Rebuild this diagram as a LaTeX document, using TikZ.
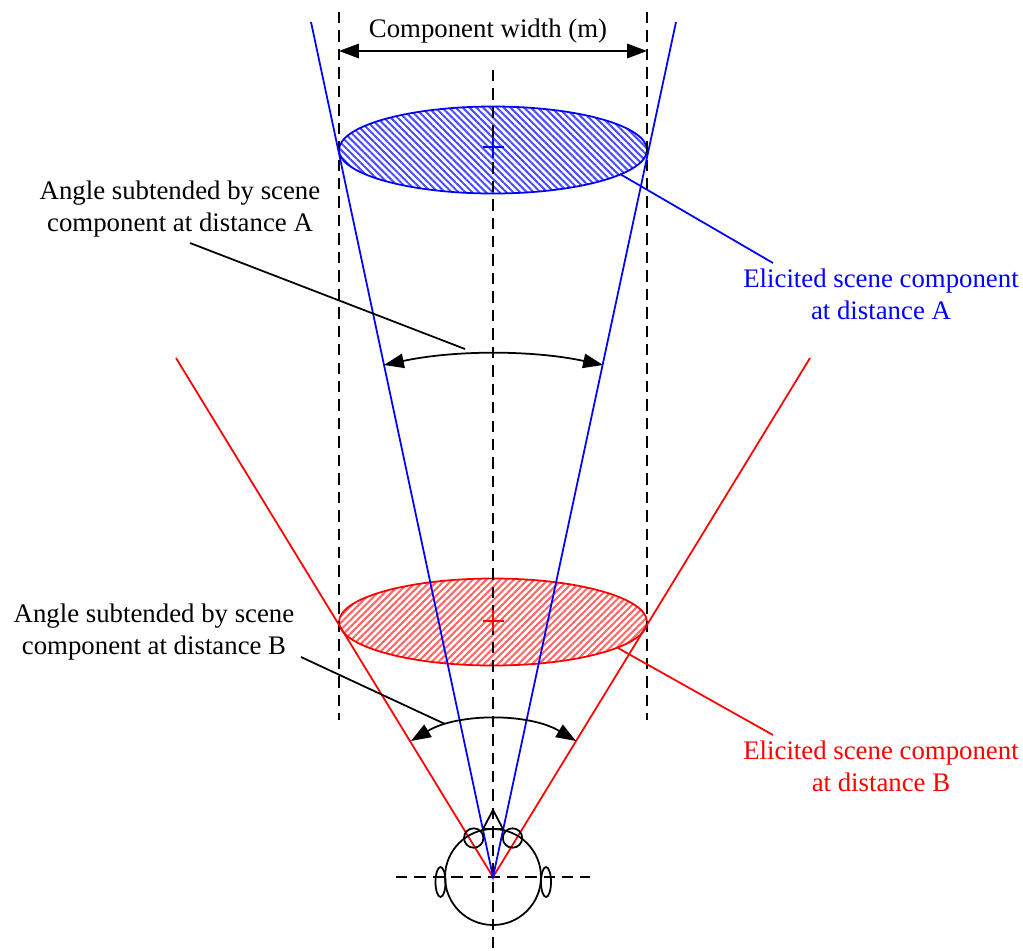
\documentclass[tikz,border=0pt]{standalone}
\usepackage{fontspec}
\setmainfont{Liberation Serif}
\usepackage{tikz}
\usetikzlibrary{arrows.meta, patterns.meta, calc}

\begin{document}
\begin{tikzpicture}[
  x=0.02cm, y=-0.02cm,
  lne/.style={line width=1pt},
  dsh/.style={lne, black, dash pattern=on 6.5pt off 4pt},
  ptr/.style={lne, black, {Triangle[length=11.3pt,width=8.2pt]}-{Triangle[length=11.3pt,width=8.2pt]}},
  lbl/.style={font=\fontsize{15.25}{18}\selectfont, align=center}
]
  \useasboundingbox (0,0) rectangle (1023,950);
  % Points
  \coordinate (eye) at (493,877);
  \coordinate (bluetl) at (311,22);
  \coordinate (bluetr) at (676,22);
  \coordinate (redtl) at (176,358);
  \coordinate (redtr) at (810,358);
  \coordinate (ctrA) at (493,150);
  \coordinate (ctrB) at (493,622);
  % Scene components
  \draw[lne, blue, pattern={Lines[angle=-45,distance=2.75pt,line width=1.15pt]}, pattern color=blue!70]
    (ctrA) ellipse [x radius=154, y radius=43.5];
  \draw[lne, red, pattern={Lines[angle=45,distance=2.75pt,line width=1.15pt]}, pattern color=red!60]
    (ctrB) ellipse [x radius=154, y radius=43.5];
  % Dashed guides
  \draw[dsh] (339,12) coordinate (gdlt) -- (339,720) coordinate (gdlb);
  \draw[dsh] (647,12) coordinate (gdrt) -- (647,720) coordinate (gdrb);
  \draw[dsh] (493,70) coordinate (axt) -- (493,950) coordinate (axb);
  \draw[dsh] (396,877) coordinate (axl) -- (590,877) coordinate (axr);
  % Crosses
  \draw[lne, blue] (483,147) -- (504,147) (493,137) -- (493,158);
  \draw[lne, red] (483,621) -- (504,621) (493,610) -- (493,631);
  % Sight lines
  \draw[lne, red] (redtl) -- (eye) -- (redtr);
  \draw[lne, blue] (bluetl) -- (eye) -- (bluetr);
  % Head
  \draw[lne] (eye) ++(0,0) circle [radius=48];
  \draw[lne] (473.7,838) circle [radius=9.7];
  \draw[lne] (512.5,838) circle [radius=9.7];
  \draw[lne] (483,829) -- (493,810) -- (503,829) -- cycle;
  \draw[lne] (440.5,882) ellipse [x radius=5, y radius=15];
  \draw[lne] (546,882) ellipse [x radius=5, y radius=15];
  % Arrows
  \coordinate (wdl) at (339,51);
  \coordinate (wdr) at (647,51);
  \draw[ptr] (wdl) -- (wdr);
  \coordinate (arcAl) at (384,365);
  \coordinate (arcAr) at (603,365);
  \coordinate (arcBl) at (411,741);
  \coordinate (arcBr) at (576,741);
  \draw[ptr] (arcAl) to[bend left=12, looseness=.85] (arcAr);
  \draw[ptr] (arcBl) to[bend left=31, looseness=.85] (arcBr);
  % Labels
  \node[lbl] (width) at (488,31) {Component width (m)};
  \node[lbl] (angA) at (180,209) {Angle subtended by scene\\component at distance A};
  \node[lbl] (angB) at (154,632) {Angle subtended by scene\\component at distance B};
  \node[lbl, blue] (elicA) at (881,294.5) {Elicited scene component\\at distance A};
  \node[lbl, red] (elicB) at (881,766.5) {Elicited scene component\\at distance B};
  % Leaders
  \coordinate (tipA) at (465,349);
  \coordinate (tipB) at (445,724);
  \draw[lne] (190,243) coordinate (srcA) -- (tipA);
  \draw[lne] (301,657) coordinate (srcB) -- (tipB);
  \draw[lne, blue] (620,174) coordinate (ldA) -- (773,263) coordinate (ldAe);
  \draw[lne, red] (618,648) coordinate (ldB) -- (773,735) coordinate (ldBe);
\end{tikzpicture}
\end{document}
